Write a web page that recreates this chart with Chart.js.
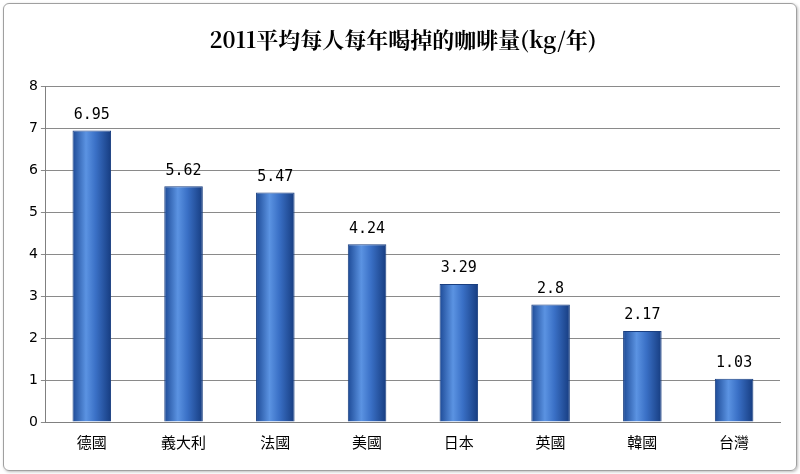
<!DOCTYPE html>
<html><head><meta charset="utf-8">
<script src="https://cdn.jsdelivr.net/npm/chart.js@4"></script>
<style>
html,body{margin:0;padding:0;background:#fff;}
#wrap{position:absolute;left:3px;top:3px;width:792px;height:466px;border:1px solid #a0a0a0;border-radius:6px;box-shadow:1px 1px 3px #bbb;}
canvas{display:block;}
</style></head><body>
<div id="wrap"><canvas id="c" width="792" height="466"></canvas></div>
<script>
const categories=["德國","義大利","法國","美國","日本","英國","韓國","台灣"];
const values=[6.95,5.62,5.47,4.24,3.29,2.8,2.17,1.03];
const labels=["6.95","5.62","5.47","4.24","3.29","2.8","2.17","1.03"];
const title="2011平均每人每年喝掉的咖啡量(kg/年)";
const barPct=0.42;

const gradPlugin={id:'grad',afterLayout(chart){
  const c=chart.ctx, xs=chart.scales.x;
  const cw=(xs.right-xs.left)/categories.length, w=cw*barPct;
  chart.data.datasets[0].backgroundColor=categories.map((_,i)=>{
    const x0=xs.getPixelForValue(i)-w/2;
    const g=c.createLinearGradient(x0,0,x0+w,0);
    g.addColorStop(0,'#1d4a96');g.addColorStop(0.35,'#5b93e2');g.addColorStop(0.6,'#3a70c6');g.addColorStop(1,'#163c80');
    return g;
  });
}};
const labelPlugin={id:'lbl',afterDatasetsDraw(chart){
  const c=chart.ctx; const meta=chart.getDatasetMeta(0);
  c.save();c.font='15px "DejaVu Sans Mono", monospace';c.fillStyle='#000';c.textAlign='center';c.textBaseline='bottom';
  meta.data.forEach((b,i)=>c.fillText(labels[i],b.x,b.y-8));
  c.restore();
}};
new Chart(document.getElementById('c'),{
  type:'bar',
  data:{labels:categories,datasets:[{data:values,backgroundColor:'#2f63b5',borderColor:'#1a3f80',borderWidth:1,barPercentage:barPct,categoryPercentage:1}]},
  options:{responsive:false,animation:false,
    layout:{padding:{left:22,right:16,top:10,bottom:16}},
    plugins:{legend:{display:false},tooltip:{enabled:false},
      title:{display:true,text:title,font:{family:'"Noto Serif CJK TC","Noto Sans CJK TC",serif',size:22,weight:'bold'},color:'#000',padding:{top:12,bottom:34}}},
    scales:{
      y:{min:0,max:8,ticks:{stepSize:1,font:{size:14,family:'"DejaVu Sans"'},color:'#000'},
        grid:{color:'#8a8a8a',drawTicks:true,tickLength:5},border:{color:'#808080'}},
      x:{ticks:{font:{size:15,family:'"Noto Sans CJK TC"'},color:'#000'},grid:{display:false},border:{color:'#808080'}}
    }
  },
  plugins:[gradPlugin,labelPlugin]
});
</script></body></html>
